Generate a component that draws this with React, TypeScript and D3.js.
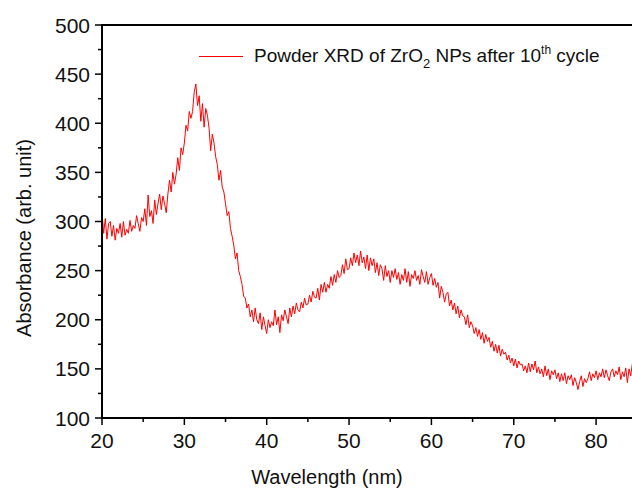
import React from "react";
import * as d3 from "d3";

// Sampling grid of the measurement (nm)
const START_NM = 20;
const STEP_NM = 0.2;

// Absorbance (arb. unit), 5 samples per nm starting at 20 nm
const absorbance: number[] = [
  310, 288, 303, 282, 298,
  300, 285, 296, 281, 293,
  288, 298, 284, 300, 286,
  292, 288, 301, 290, 296,
  293, 306, 298, 290, 304,
  300, 313, 296, 327, 305,
  311, 298, 322, 307, 318,
  328, 312, 326, 318, 309,
  328, 342, 330, 350, 338,
  348, 365, 352, 375, 368,
  380, 398, 392, 412, 405,
  412, 432, 440, 418, 428,
  402, 420, 396, 415, 408,
  395, 372, 389, 380, 366,
  358, 342, 352, 335, 330,
  318, 306, 310, 293, 285,
  276, 262, 268, 250, 244,
  236, 224, 222, 212, 216,
  203, 210, 198, 212, 200,
  196, 207, 190, 203, 194,
  186, 200, 192, 198, 194,
  210, 195, 203, 187, 205,
  199, 210, 203, 196, 212,
  203, 214, 206, 217, 210,
  208, 218, 212, 222, 215,
  216, 225, 218, 229, 223,
  222, 232, 220, 236, 228,
  238, 228, 236, 232, 244,
  235, 246, 238, 250, 243,
  245, 256, 247, 262, 251,
  252, 263, 255, 268, 258,
  266, 255, 270, 258, 264,
  252, 266, 250, 263, 255,
  262, 248, 258, 245, 256,
  252, 240, 255, 244, 250,
  238, 250, 243, 252, 241,
  248, 236, 246, 240, 252,
  238, 249, 234, 246, 242,
  250, 240, 245, 236, 251,
  244, 238, 249, 236, 243,
  247, 235, 242, 233, 238,
  222, 234, 228, 218, 226,
  228, 214, 220, 210, 217,
  206, 214, 202, 210, 204,
  203, 195, 205, 192, 198,
  194, 186, 192, 183, 190,
  180, 187, 176, 185, 178,
  182, 172, 178, 168, 175,
  166, 174, 163, 170, 165,
  167, 159, 164, 156, 161,
  153, 160, 151, 158, 154,
  155, 148, 153, 146, 156,
  147, 155, 149, 158, 146,
  152, 145, 150, 142, 153,
  143, 150, 139, 148, 144,
  149, 140, 146, 137, 145,
  138, 146, 135, 143, 139,
  144, 133, 141, 136, 129,
  137, 143, 132, 140, 136,
  140, 147, 138, 145, 141,
  148, 139, 146, 142, 150,
  141, 149, 143, 138, 147,
  150, 142, 148, 144, 152,
  139, 147, 142, 151, 136,
  150, 143, 155, 146, 149,
];

const xMajorTicks = [20, 30, 40, 50, 60, 70, 80];
const xMinorTicks = [25, 35, 45, 55, 65, 75];
const yMajorTicks = [100, 150, 200, 250, 300, 350, 400, 450, 500];
const yMinorTicks = [125, 175, 225, 275, 325, 375, 425, 475];

const W = 632;
const H = 488;
const left = 102;
const top = 25;
const bottom = 418;

export default function App() {
  const x = d3.scaleLinear().domain([20, 80]).range([left, left + 6 * 82.35]);
  const y = d3.scaleLinear().domain([100, 500]).range([bottom, top]);

  const pts: [number, number][] = absorbance.map((v, i) => [START_NM + i * STEP_NM, v]);
  const line = d3
    .line<[number, number]>()
    .x((d) => x(d[0]))
    .y((d) => y(d[1]));

  const font = "'Liberation Sans', Arial, sans-serif";
  const txt = "#111";

  return (
    <svg
      width={W}
      height={H}
      style={{ position: "fixed", left: 0, top: 0, background: "#fff" }}
      fontFamily={font}
    >
      <defs>
        <clipPath id="plot">
          <rect x={left} y={top} width={W - left} height={bottom - top} />
        </clipPath>
      </defs>

      <path
        d={line(pts) || ""}
        fill="none"
        stroke="#ff0000"
        strokeWidth={1}
        strokeLinejoin="round"
        clipPath="url(#plot)"
      />

      {/* axes */}
      <line x1={left} x2={W} y1={top} y2={top} stroke="#000" strokeWidth={2} />
      <line x1={left} x2={left} y1={top - 1} y2={bottom + 1} stroke="#000" strokeWidth={2} />
      <line x1={left - 1} x2={W} y1={bottom} y2={bottom} stroke="#000" strokeWidth={2} />

      {yMajorTicks.map((t) => (
        <g key={"ym" + t}>
          <line x1={left - 7} x2={left} y1={y(t)} y2={y(t)} stroke="#000" strokeWidth={1.5} />
          <text
            x={90}
            y={y(t)}
            textAnchor="end"
            dominantBaseline="central"
            fontSize={21}
            fill={txt}
          >
            {t}
          </text>
        </g>
      ))}
      {yMinorTicks.map((t) => (
        <line key={"yn" + t} x1={left - 4} x2={left} y1={y(t)} y2={y(t)} stroke="#000" strokeWidth={1.5} />
      ))}
      {xMajorTicks.map((t) => (
        <g key={"xm" + t}>
          <line x1={x(t)} x2={x(t)} y1={bottom} y2={bottom + 7} stroke="#000" strokeWidth={1.5} />
          <text x={x(t)} y={448} textAnchor="middle" fontSize={21} fill={txt}>
            {t}
          </text>
        </g>
      ))}
      {xMinorTicks.map((t) => (
        <line key={"xn" + t} x1={x(t)} x2={x(t)} y1={bottom} y2={bottom + 4} stroke="#000" strokeWidth={1.5} />
      ))}

      {/* axis titles */}
      <text x={327} y={484} textAnchor="middle" fontSize={20} fill={txt}>
        Wavelength (nm)
      </text>
      <text
        transform={`translate(31,238) rotate(-90)`}
        textAnchor="middle"
        fontSize={20}
        fill={txt}
      >
        Absorbance (arb. unit)
      </text>

      {/* legend */}
      <line x1={199} x2={243} y1={56.5} y2={56.5} stroke="#ff0000" strokeWidth={1} />
      <text x={254} y={62} fontSize={19} fill={txt}>
        Powder XRD of ZrO
        <tspan fontSize={13} dy={6}>2</tspan>
        <tspan dy={-6}> NPs after 10</tspan>
        <tspan fontSize={12} dy={-8}>th</tspan>
        <tspan dy={8}> cycle</tspan>
      </text>
    </svg>
  );
}
